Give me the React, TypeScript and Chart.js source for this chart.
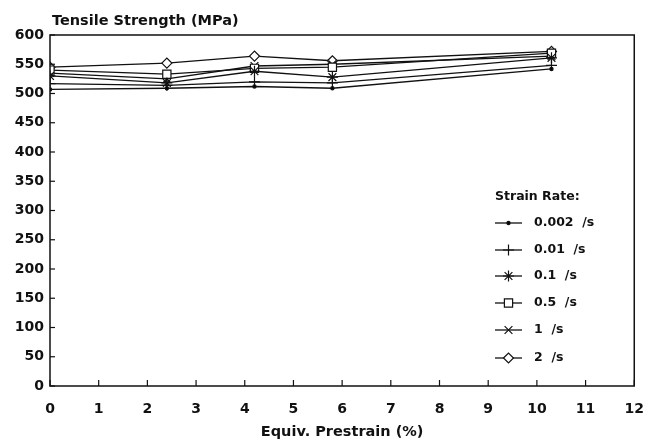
import React, { useEffect, useRef } from "react";
import { Chart, registerables } from "chart.js";
import { drawPoint } from "chart.js/helpers";

Chart.register(...registerables);

const prestrain = [0, 2.4, 4.2, 5.8, 10.3];
const rate0002 = [507, 509, 512, 509, 542];
const rate001 = [517, 514, 520, 518, 548];
const rate01 = [530, 518, 538, 528, 561];
const rate05 = [540, 533, 543, 545, 569];
const rate1 = [535, 525, 547, 550, 564];
const rate2 = [545, 552, 564, 556, 572];
const seriesLabels = ["0.002 /s", "0.01 /s", "0.1 /s", "0.5 /s", "1 /s", "2 /s"];
const xTicks = [0, 1, 2, 3, 4, 5, 6, 7, 8, 9, 10, 11, 12];
const yTicks = [0, 50, 100, 150, 200, 250, 300, 350, 400, 450, 500, 550, 600];

const FONT = "'DejaVu Sans', 'Liberation Sans', sans-serif";

const markerStyles: any[] = [
  { pointStyle: "circle", radius: 1.6, fill: "#000" },
  { pointStyle: "cross", radius: 5.5, fill: "#fff" },
  { pointStyle: "star", radius: 5.5, fill: "#fff" },
  { pointStyle: "rect", radius: 5.8, fill: "#fff" },
  { pointStyle: "crossRot", radius: 5.5, fill: "#fff" },
  { pointStyle: "rectRot", radius: 5, fill: "#fff" },
];

export default function App() {
  const ref = useRef<HTMLCanvasElement | null>(null);
  useEffect(() => {
    if (!ref.current) return;
    const values = [rate0002, rate001, rate01, rate05, rate1, rate2];
    const datasets = values.map((vals, i) => ({
      label: seriesLabels[i],
      data: prestrain.map((x, j) => ({ x, y: vals[j] })),
      borderColor: "#111",
      borderWidth: 1.3,
      pointStyle: markerStyles[i].pointStyle,
      pointRadius: markerStyles[i].radius,
      pointBackgroundColor: markerStyles[i].fill,
      pointBorderColor: "#111",
      pointBorderWidth: 1.2,
      tension: 0,
    }));

    const decor = {
      id: "decor",
      afterDraw(chart: any) {
        const { ctx, chartArea } = chart;
        const xs = chart.scales.x;
        const ys = chart.scales.y;
        ctx.save();
        ctx.strokeStyle = "#111";
        ctx.lineWidth = 1.5;
        ctx.strokeRect(chartArea.left, chartArea.top, chartArea.right - chartArea.left, chartArea.bottom - chartArea.top);
        ctx.lineWidth = 1.2;
        xTicks.forEach((t) => {
          const px = xs.getPixelForValue(t);
          ctx.beginPath();
          ctx.moveTo(px, chartArea.bottom);
          ctx.lineTo(px, chartArea.bottom - 6);
          ctx.stroke();
        });
        yTicks.forEach((t) => {
          const py = ys.getPixelForValue(t);
          ctx.beginPath();
          ctx.moveTo(chartArea.left, py);
          ctx.lineTo(chartArea.left + 5, py);
          ctx.stroke();
        });
        ctx.fillStyle = "#111";
        ctx.font = `bold 14.5px ${FONT}`;
        ctx.textAlign = "left";
        ctx.textBaseline = "middle";
        ctx.fillText("Tensile Strength (MPa)", 52, 21);
        ctx.font = `bold 12.5px ${FONT}`;
        ctx.fillText("Strain Rate:", 495, 197);
        const rowY = [223, 250, 276, 303, 330, 358];
        seriesLabels.forEach((lab, i) => {
          const y = rowY[i];
          ctx.strokeStyle = "#111";
          ctx.lineWidth = 1.3;
          ctx.beginPath();
          ctx.moveTo(495, y);
          ctx.lineTo(522, y);
          ctx.stroke();
          ctx.fillStyle = markerStyles[i].fill;
          ctx.lineWidth = 1.2;
          drawPoint(ctx, { pointStyle: markerStyles[i].pointStyle, radius: markerStyles[i].radius, rotation: 0, borderWidth: 1.2 } as any, 508.5, y);
          ctx.fillStyle = "#111";
          ctx.font = `bold 12.5px ${FONT}`;
          ctx.fillText(lab.replace(" /", "  /"), 534, y);
        });
        ctx.restore();
      },
    };

    const chart = new Chart(ref.current, {
      type: "line",
      data: { datasets },
      options: {
        animation: false,
        responsive: false,
        maintainAspectRatio: false,
        layout: { padding: { top: 35, right: 23, left: 0, bottom: 0 } },
        plugins: { legend: { display: false }, tooltip: { enabled: false } },
        scales: {
          x: {
            type: "linear",
            min: 0,
            max: 12,
            afterBuildTicks: (s: any) => { s.ticks = xTicks.map((v) => ({ value: v })); },
            afterFit: (s: any) => { s.height = 58; },
            grid: { display: false, drawTicks: false },
            border: { display: false },
            ticks: { color: "#111", font: { family: FONT, size: 14, weight: "bold" }, padding: 15, maxRotation: 0 },
            title: { display: true, text: "Equiv. Prestrain (%)", color: "#111", font: { family: FONT, size: 14.5, weight: "bold" }, padding: { top: 0, bottom: 3 } },
          },
          y: {
            type: "linear",
            min: 0,
            max: 600,
            afterBuildTicks: (s: any) => { s.ticks = yTicks.map((v) => ({ value: v })); },
            afterFit: (s: any) => { s.width = 50; },
            grid: { display: false, drawTicks: false },
            border: { display: false },
            ticks: { color: "#111", font: { family: FONT, size: 14, weight: "bold" }, padding: 6 },
          },
        },
      },
      plugins: [decor],
    } as any);
    return () => chart.destroy();
  }, []);

  return (
    <div style={{ position: "absolute", left: 0, top: 0, width: 659, height: 444, background: "#fff" }}>
      <canvas ref={ref} width={659} height={444} style={{ width: 659, height: 444, display: "block" }} />
    </div>
  );
}
